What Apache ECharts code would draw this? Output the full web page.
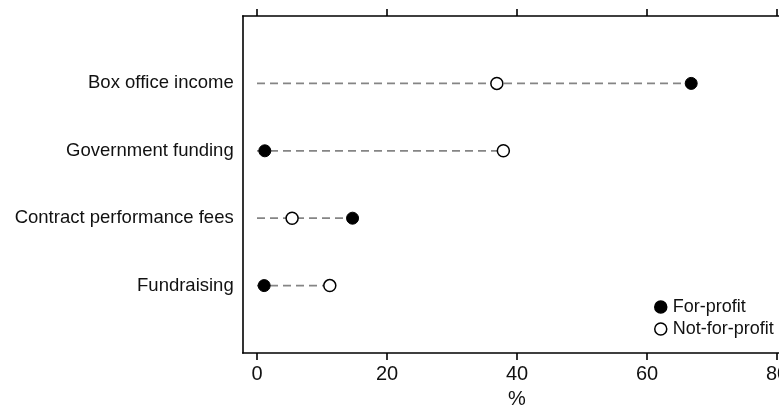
<!DOCTYPE html>
<html>
<head>
<meta charset="utf-8">
<script src="https://cdn.jsdelivr.net/npm/echarts@6/dist/echarts.min.js"></script>
<style>
html,body{margin:0;padding:0;background:#fff;}
#chart{width:779px;height:407px;}
</style>
</head>
<body>
<div id="chart"></div>
<script>
// Data
const categories = ['Box office income', 'Government funding', 'Contract performance fees', 'Fundraising'];
const forProfit = [66.8, 1.2, 14.7, 1.1];
const notForProfit = [36.9, 37.9, 5.4, 11.2];
const xTicks = [0, 20, 40, 60, 80];
const seriesNames = ['For-profit', 'Not-for-profit'];

const FONT = 'Liberation Sans, Arial, Helvetica, sans-serif';
const chart = echarts.init(document.getElementById('chart'), null, {renderer: 'canvas'});

const rowPos = categories.map((c, i) => i + 1);
const lineData = categories.map((c, i) => [Math.max(forProfit[i], notForProfit[i]), rowPos[i]]);

const option = {
  animation: false,
  backgroundColor: '#fff',
  textStyle: {fontFamily: FONT},
  grid: {left: 242.7, top: 16, width: 548.6, height: 337, containLabel: false, outerBoundsMode: 'none'},
  xAxis: [{
    type: 'value', position: 'bottom', min: -2.2, max: 82.2,
    axisLine: {show: true, onZero: false, lineStyle: {color: '#000', width: 1.6}},
    axisTick: {show: true, length: 7, lineStyle: {color: '#000', width: 1.6}, customValues: xTicks},
    axisLabel: {show: true, customValues: xTicks, margin: 11, fontSize: 20, color: '#111', fontFamily: FONT},
    splitLine: {show: false},
    name: '%', nameLocation: 'middle', nameGap: 36,
    nameTextStyle: {fontSize: 20, color: '#111', fontFamily: FONT}
  }, {
    type: 'value', position: 'top', min: -2.2, max: 82.2,
    axisLine: {show: true, onZero: false, lineStyle: {color: '#000', width: 1.6}},
    axisTick: {show: true, length: 7, lineStyle: {color: '#000', width: 1.6}, customValues: xTicks},
    axisLabel: {show: false},
    splitLine: {show: false}
  }],
  yAxis: {
    type: 'value', min: 0, max: 5, interval: 1, inverse: true,
    axisLine: {show: true, onZero: false, lineStyle: {color: '#000', width: 1.6}},
    axisTick: {show: false},
    splitLine: {show: false},
    axisLabel: {
      margin: 9, fontSize: 18.5, color: '#111', fontFamily: FONT, padding: [4, 0, 0, 0],
      formatter: v => categories[v - 1] || ''
    }
  },
  legend: {
    orient: 'vertical', left: 649, top: 293, itemGap: 4,
    itemWidth: 12, itemHeight: 12, icon: 'circle',
    textStyle: {fontSize: 18, lineHeight: 18, color: '#111', fontFamily: FONT, padding: [0, 0, 0, 1]},
    data: [
      {name: seriesNames[0], itemStyle: {color: '#000', borderColor: '#000', borderWidth: 1.5}},
      {name: seriesNames[1], itemStyle: {color: '#fff', borderColor: '#000', borderWidth: 1.5}}
    ]
  },
  series: [{
    type: 'custom',
    silent: true,
    z: 1,
    data: lineData,
    renderItem: function (params, api) {
      const y = api.value(1);
      const p0 = api.coord([0, y]);
      const p1 = api.coord([api.value(0), y]);
      return {
        type: 'line',
        shape: {x1: p0[0], y1: p0[1], x2: p1[0], y2: p1[1]},
        style: {stroke: '#858585', lineWidth: 1.8, lineDash: [8, 5]}
      };
    }
  }, {
    name: seriesNames[1], type: 'scatter', z: 3,
    symbol: 'circle', symbolSize: 12,
    itemStyle: {color: '#fff', borderColor: '#000', borderWidth: 1.5, opacity: 1},
    data: notForProfit.map((v, i) => [v, rowPos[i]])
  }, {
    name: seriesNames[0], type: 'scatter', z: 4,
    symbol: 'circle', symbolSize: 12,
    itemStyle: {color: '#000', borderColor: '#000', borderWidth: 1, opacity: 1},
    data: forProfit.map((v, i) => [v, rowPos[i]])
  }]
};
chart.setOption(option);
</script>
</body>
</html>
